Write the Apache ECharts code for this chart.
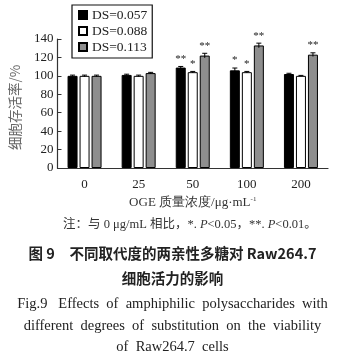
<!DOCTYPE html>
<html><head><meta charset="utf-8">
<script src="https://cdn.jsdelivr.net/npm/echarts@6/dist/echarts.min.js"></script>
<style>html,body{margin:0;padding:0;background:#fff}#c{width:345px;height:361px}</style>
</head><body><div id="c"></div>
<script>
const categories = ['0','25','50','100','200'];
const seriesNames = ['DS=0.057','DS=0.088','DS=0.113'];
const ds057 = [100,101,109,106,102];
const ds088 = [100,100,104,104,100];
const ds113 = [100,103,122,133,123];
const err057 = [0.8,0.8,1.2,2.5,0.8];
const err088 = [0.8,0.8,0.8,0.8,0.5];
const err113 = [0.8,0.8,2.5,2.5,2.0];
const star057 = ['','','**','*',''];
const star088 = ['','','*','*',''];
const star113 = ['','','**','**','**'];

const values = [ds057, ds088, ds113];
const errs = [err057, err088, err113];
const stars = [star057, star088, star113];
const colors = ['#000000', '#ffffff', '#8e8e8e'];
const BAR_W = 10, BAR_GAP = 2;

const errData = [];
for (let s = 0; s < 3; s++) for (let i = 0; i < categories.length; i++)
  errData.push([i, values[s][i], errs[s][i], stars[s][i], s]);

const serif = '"Liberation Serif","Times New Roman",serif';
const chart = echarts.init(document.getElementById('c'), null, {renderer:'canvas'});
chart.setOption({
  animation: false,
  textStyle: {fontFamily: serif},
  legend: {
    orient: 'vertical', left: 72, top: 5, itemWidth: 8, itemHeight: 8, itemGap: 2,
    padding: [3, 5, 4, 6], borderColor: '#111', borderWidth: 1.2,
    textStyle: {fontFamily: serif, fontSize: 13.5, color: '#222', padding: [0,0,0,0]},
    icon: 'rect',
    data: seriesNames
  },
  grid: {left: 54, right: 17, top: 39, bottom: 193},
  xAxis: {
    type: 'category', data: categories,
    axisLine: {lineStyle: {color: '#333', width: 1.2}},
    axisTick: {inside: true, length: 4, lineStyle: {color: '#333'}},
    axisLabel: {fontFamily: serif, fontSize: 13, color: '#222', margin: 10},
    name: 'OGE 质量浓度/μg·mL{sup|-1}', nameLocation: 'middle', nameGap: 28,
    nameTextStyle: {fontFamily: serif, fontSize: 13, color: '#333',
      rich: {sup: {fontSize: 7, verticalAlign: 'top', padding: [0,0,6,0], fontFamily: serif, color:'#333'}}}
  },
  yAxis: {
    type: 'value', min: 0, max: 140, interval: 20,
    axisLine: {show: true, lineStyle: {color: '#333', width: 1.2}},
    axisTick: {show: true, inside: true, length: 4, lineStyle: {color: '#333'}},
    splitLine: {show: false},
    axisLabel: {fontFamily: serif, fontSize: 13, color: '#222', margin: 4},
    name: '细胞存活率/%', nameLocation: 'middle', nameGap: 36, nameRotate: 90,
    nameTextStyle: {fontFamily: '"Noto Sans CJK SC",' + serif, fontSize: 13.5, color: '#666', padding: [0,0,0,-8]}
  },
  series: seriesNames.map((n, s) => ({
    name: n, type: 'bar', data: values[s], barWidth: BAR_W, barGap: (BAR_GAP / BAR_W * 100) + '%',
    itemStyle: {color: colors[s], borderColor: '#000', borderWidth: 1}
  })).concat([{
    type: 'custom', data: errData, z: 10,
    renderItem: function (params, api) {
      const i = api.value(0), v = api.value(1), e = api.value(2), s = api.value(4);
      const star = errData[params.dataIndex][3];
      const off = (s - 1) * (BAR_W + BAR_GAP);
      const x = api.coord([i, v])[0] + off;
      const yT = api.coord([i, v + e])[1], yB = api.coord([i, v - e])[1];
      const st = {stroke: '#000', lineWidth: 1};
      const ch = [
        {type: 'line', shape: {x1: x, y1: yT, x2: x, y2: yB}, style: st},
        {type: 'line', shape: {x1: x - 2.5, y1: yT, x2: x + 2.5, y2: yT}, style: st}
      ];
      if (star) ch.push({type: 'text', style: {text: star, x: x, y: yT - 2, align: 'center', verticalAlign: 'bottom',
        fontSize: 11, fontFamily: serif, fill: '#222'}});
      return {type: 'group', children: ch};
    }
  }]),
  graphic: [
    {type: 'text', left: 63, top: 218, style: {
      text: '注：与 0 μg/mL 相比，*. {i|P}<0.05，**. {i|P}<0.01。',
      fontFamily: serif + ',"Noto Sans CJK SC"', fontSize: 12.5, fill: '#333',
      rich: {i: {fontStyle: 'italic', fontFamily: serif, fontSize: 12.5, fill: '#333'}}}},
    {type: 'text', left: 'center', top: 246, style: {
      text: '图 9　不同取代度的两亲性多糖对 Raw264.7', fontFamily: '"Noto Sans CJK SC","Noto Sans",sans-serif',
      fontSize: 14.5, fontWeight: 'bold', fill: '#222'}},
    {type: 'text', left: 'center', top: 271, style: {
      text: '细胞活力的影响', fontFamily: '"Noto Sans CJK SC",sans-serif',
      fontSize: 14.5, fontWeight: 'bold', fill: '#222'}},
    {type: 'text', left: 'center', top: 297, style: {
      text: 'Fig.9   Effects  of  amphiphilic  polysaccharides  with', fontFamily: serif, fontSize: 14.5, fill: '#222'}},
    {type: 'text', left: 'center', top: 319, style: {
      text: 'different  degrees  of  substitution  on  the  viability', fontFamily: serif, fontSize: 14.5, fill: '#222'}},
    {type: 'text', left: 'center', top: 340, style: {
      text: 'of  Raw264.7  cells', fontFamily: serif, fontSize: 14.5, fill: '#222'}}
  ]
});
</script></body></html>
